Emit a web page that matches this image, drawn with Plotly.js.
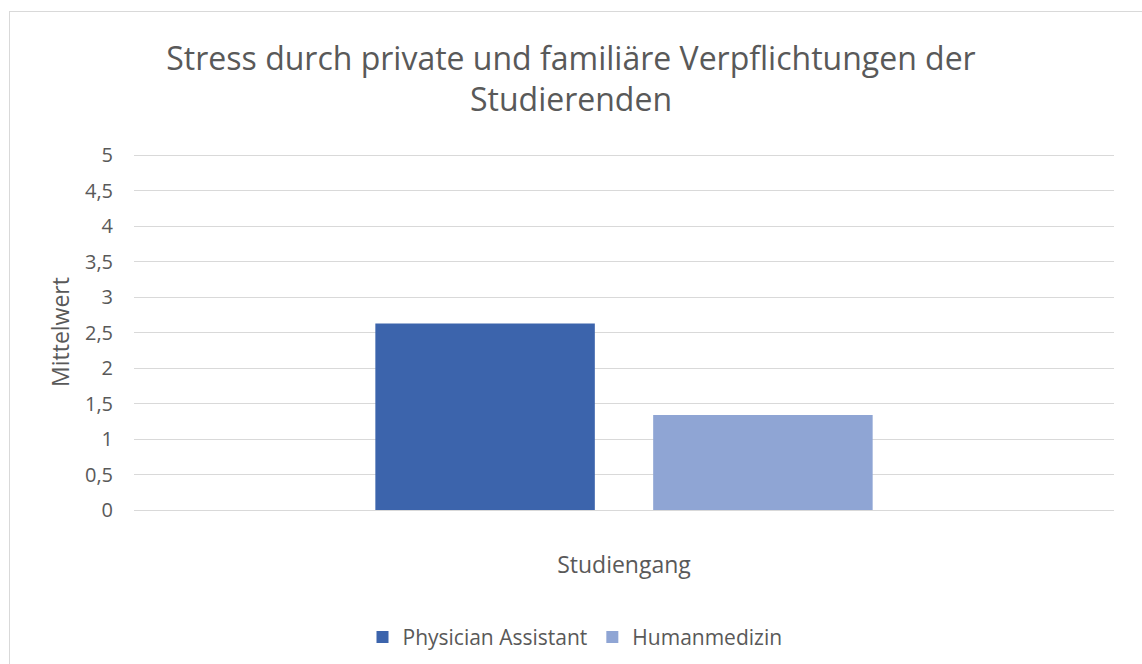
<!DOCTYPE html>
<html>
<head>
<meta charset="utf-8">
<script src="https://cdn.plot.ly/plotly-3.0.1.min.js"></script>
<style>
  body { margin: 0; background: #fff; }
  #graph { position: absolute; left: 0; top: 0; width: 1142px; height: 664px; }
  #frame { position: absolute; left: 9px; top: 11px; width: 1150px; height: 670px;
           border: 1px solid #d9d9d9; pointer-events: none; }
</style>
</head>
<body>
<div id="graph"></div>
<div id="frame"></div>
<script>
// chart values
var series = ['Physician Assistant', 'Humanmedizin'];
var means = [2.63, 1.34];
var colors = ['#3C64AC', '#8FA5D4'];
var category = ['Studiengang'];
var yTicks = [0, 0.5, 1, 1.5, 2, 2.5, 3, 3.5, 4, 4.5, 5];
var yTickText = ['0', '0,5', '1', '1,5', '2', '2,5', '3', '3,5', '4', '4,5', '5'];

var font = 'Open Sans, sans-serif';
var grey = '#595959';

var data = [];
for (var i = 0; i < series.length; i++) {
  data.push({
    type: 'bar',
    name: series[i],
    x: category,
    y: [means[i]],
    marker: { color: colors[i] },
    hoverinfo: 'y+name'
  });
}

var layout = {
  width: 1142,
  height: 664,
  margin: { l: 134, r: 28, t: 154, b: 154, autoexpand: false },
  paper_bgcolor: 'rgba(0,0,0,0)',
  plot_bgcolor: '#fff',
  font: { family: font, color: grey },
  title: {
    text: 'Stress durch private und familiäre Verpflichtungen der<br>Studierenden',
    font: { family: font, size: 32, color: grey },
    x: 0.5, xanchor: 'center',
    y: 0.895, yanchor: 'top'
  },
  barmode: 'group',
  bargap: 0.433,
  bargroupgap: 0.21,
  xaxis: {
    automargin: false,
    showticklabels: false,
    showgrid: false,
    zeroline: false,
    showline: false,
    title: { text: 'Studiengang', font: { size: 23, color: grey }, standoff: 46 }
  },
  yaxis: {
    automargin: false,
    range: [0, 5.02],
    tickvals: yTicks,
    ticktext: yTickText,
    tickfont: { size: 20, color: grey },
    gridcolor: '#d9d9d9',
    gridwidth: 1,
    zeroline: true,
    zerolinecolor: '#d9d9d9',
    zerolinewidth: 1,
    showline: false,
    ticks: '',
    ticklabelstandoff: 20
  },
  annotations: [{
    text: 'Mittelwert',
    textangle: -90,
    xref: 'paper', yref: 'paper',
    x: -0.0755, y: 0.5,
    xanchor: 'center', yanchor: 'middle',
    showarrow: false,
    font: { family: font, size: 23, color: grey }
  }],
  legend: {
    orientation: 'h',
    x: 0.45, xanchor: 'center',
    y: -0.3, yanchor: 'top',
    font: { size: 21, color: grey },
    traceorder: 'normal'
  }
};

Plotly.newPlot('graph', data, layout, { displayModeBar: false, staticPlot: true });
</script>
</body>
</html>
